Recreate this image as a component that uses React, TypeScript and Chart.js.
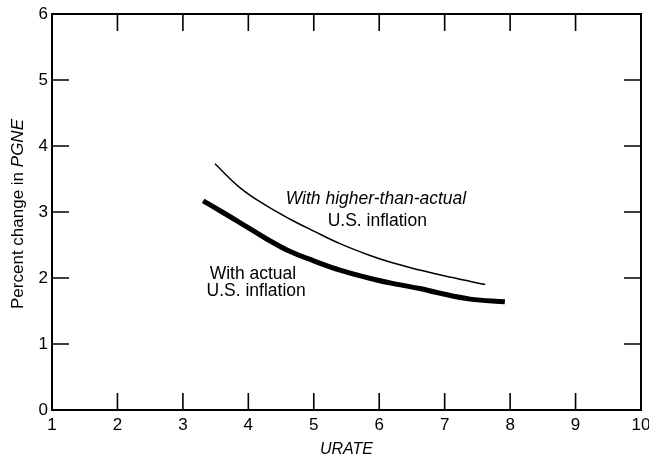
import React, { useEffect, useRef } from "react";
import { Chart, registerables } from "chart.js";

Chart.register(...registerables);

const xTickValues = [1, 2, 3, 4, 5, 6, 7, 8, 9, 10];
const yTickValues = [0, 1, 2, 3, 4, 5, 6];

const actualX = [3.31, 3.6, 3.87, 4.25, 4.64, 5.0, 5.4, 5.96, 6.3, 6.62, 6.88, 7.39, 7.92];
const actualY = [3.17, 3.0, 2.84, 2.61, 2.4, 2.26, 2.12, 1.97, 1.9, 1.84, 1.78, 1.68, 1.64];

const higherX = [3.49, 3.87, 4.25, 4.64, 5.0, 5.4, 5.86, 6.2, 6.62, 7.1, 7.62];
const higherY = [3.73, 3.37, 3.11, 2.89, 2.71, 2.52, 2.34, 2.23, 2.12, 2.01, 1.9];

const xTitle = "URATE";
const yTitlePlain = "Percent change in ";
const yTitleItalic = "PGNE";
const higherLabel = ["With higher-than-actual", "U.S. inflation"];
const actualLabel = ["With actual", "U.S. inflation"];

const FONT = "'Liberation Sans', Arial, Helvetica, sans-serif";

const overlayPlugin = {
  id: "overlay",
  afterDraw(chart: any) {
    const ctx = chart.ctx;
    const { left, right, top, bottom } = chart.chartArea;
    const xs = chart.scales.x;
    const ys = chart.scales.y;
    ctx.save();
    ctx.strokeStyle = "#000";
    ctx.lineWidth = 2;
    ctx.strokeRect(left, top, right - left, bottom - top);
    const tl = 17;
    ctx.lineWidth = 1.6;
    ctx.beginPath();
    xTickValues.slice(1, -1).forEach((v) => {
      const px = xs.getPixelForValue(v);
      ctx.moveTo(px, bottom);
      ctx.lineTo(px, bottom - tl);
      ctx.moveTo(px, top);
      ctx.lineTo(px, top + tl);
    });
    yTickValues.slice(1, -1).forEach((v) => {
      const py = ys.getPixelForValue(v);
      ctx.moveTo(left, py);
      ctx.lineTo(left + tl, py);
      ctx.moveTo(right, py);
      ctx.lineTo(right - tl, py);
    });
    ctx.stroke();

    ctx.fillStyle = "#000";
    ctx.font = `italic 16px ${FONT}`;
    ctx.textAlign = "center";
    ctx.textBaseline = "middle";
    ctx.fillText(xTitle, (left + right) / 2, 450);

    ctx.save();
    ctx.translate(18, (top + bottom) / 2 + 2);
    ctx.rotate(-Math.PI / 2);
    ctx.font = `17px ${FONT}`;
    const w1 = ctx.measureText(yTitlePlain).width;
    ctx.font = `italic 17px ${FONT}`;
    const w2 = ctx.measureText(yTitleItalic).width;
    const start = -(w1 + w2) / 2;
    ctx.textAlign = "left";
    ctx.font = `17px ${FONT}`;
    ctx.fillText(yTitlePlain, start, 0);
    ctx.font = `italic 17px ${FONT}`;
    ctx.fillText(yTitleItalic, start + w1, 0);
    ctx.restore();

    ctx.textAlign = "center";
    ctx.textBaseline = "middle";
    ctx.font = `italic 17.5px ${FONT}`;
    ctx.fillText(higherLabel[0], xs.getPixelForValue(5.95), ys.getPixelForValue(3.2));
    ctx.font = `17.5px ${FONT}`;
    ctx.fillText(higherLabel[1], xs.getPixelForValue(5.97), ys.getPixelForValue(2.86));
    ctx.fillText(actualLabel[0], xs.getPixelForValue(4.07), ys.getPixelForValue(2.06));
    ctx.fillText(actualLabel[1], xs.getPixelForValue(4.12), ys.getPixelForValue(1.8));
    ctx.restore();
  },
};

export default function App() {
  const ref = useRef<HTMLCanvasElement | null>(null);
  useEffect(() => {
    document.body.style.margin = "0";
    const canvas = ref.current;
    if (!canvas) return;
    const chart = new Chart(canvas, {
      type: "line",
      data: {
        datasets: [
          {
            label: "With actual U.S. inflation",
            data: actualX.map((x, i) => ({ x, y: actualY[i] })),
            borderColor: "#000",
            borderWidth: 5,
            pointRadius: 0,
            tension: 0.4,
            borderCapStyle: "butt",
            fill: false,
          },
          {
            label: "With higher-than-actual U.S. inflation",
            data: higherX.map((x, i) => ({ x, y: higherY[i] })),
            borderColor: "#000",
            borderWidth: 1.5,
            pointRadius: 0,
            tension: 0.4,
            fill: false,
          },
        ],
      },
      options: {
        animation: false,
        responsive: false,
        devicePixelRatio: 1,
        layout: { padding: { top: 14, right: 8, left: 0, bottom: 0 } },
        plugins: {
          legend: { display: false },
          tooltip: { enabled: false },
        },
        scales: {
          x: {
            type: "linear",
            min: 1,
            max: 10,
            afterFit: (s: any) => {
              s.height = 50;
              s.paddingLeft = 0;
              s.paddingRight = 0;
            },
            afterBuildTicks: (s: any) => {
              s.ticks = xTickValues.map((v) => ({ value: v }));
            },
            grid: { display: false, drawTicks: false },
            border: { display: false },
            ticks: {
              color: "#000",
              font: { family: FONT, size: 17 },
              padding: 5,
              maxRotation: 0,
              autoSkip: false,
            },
          },
          y: {
            type: "linear",
            min: 0,
            max: 6,
            afterFit: (s: any) => {
              s.width = 52;
              s.paddingTop = 0;
              s.paddingBottom = 0;
            },
            afterBuildTicks: (s: any) => {
              s.ticks = yTickValues.map((v) => ({ value: v }));
            },
            grid: { display: false, drawTicks: false },
            border: { display: false },
            ticks: {
              color: "#000",
              font: { family: FONT, size: 17 },
              padding: 4,
              autoSkip: false,
            },
          },
        },
      },
      plugins: [overlayPlugin],
    });
    return () => chart.destroy();
  }, []);
  return (
    <canvas
      ref={ref}
      width={649}
      height={460}
      style={{ display: "block", width: 649, height: 460 }}
    />
  );
}
